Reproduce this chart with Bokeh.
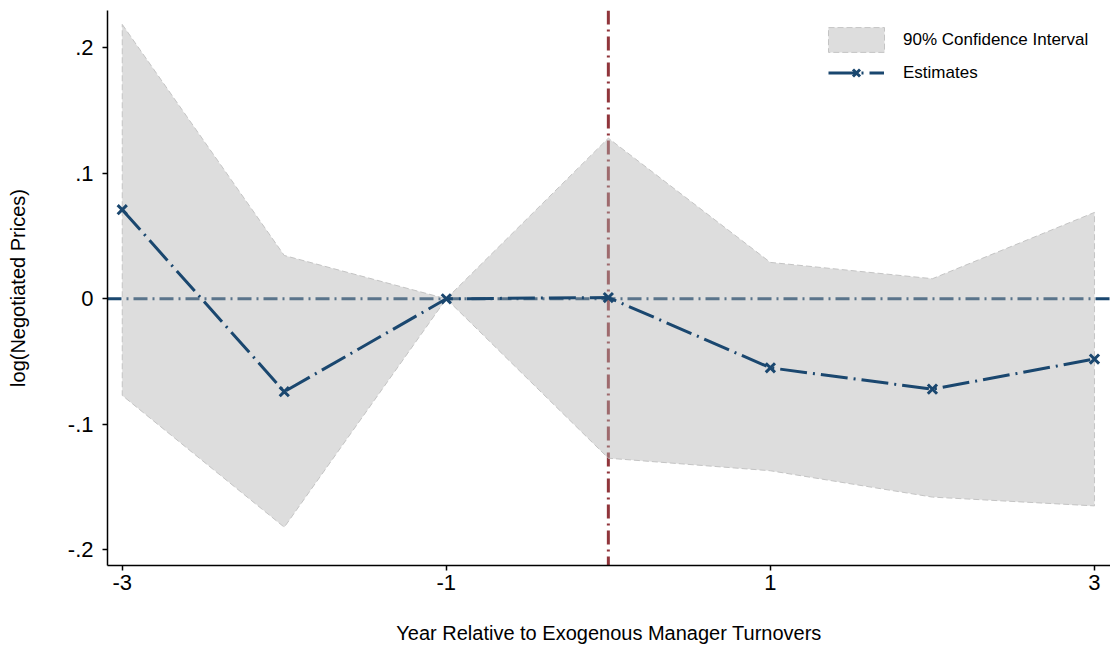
from bokeh.plotting import figure
from bokeh.models import (Range1d, FixedTicker, CustomJSTickFormatter, Span,
                          Legend, LegendItem)
from bokeh.embed import file_html
from bokeh.resources import INLINE

# Event-study estimates by year relative to manager turnover
years = [-3, -2, -1, 0, 1, 2, 3]
estimates = [0.071, -0.074, 0.0, 0.001, -0.055, -0.072, -0.048]
ci_upper = [0.2186, 0.0345, 0.0, 0.128, 0.029, 0.016, 0.0688]
ci_lower = [-0.077, -0.182, 0.0, -0.127, -0.137, -0.158, -0.165]

x_ticks = [-3, -1, 1, 3]
y_ticks = [-0.2, -0.1, 0.0, 0.1, 0.2]

FONT = "Liberation Sans"
NAVY = "#1a476f"
MAROON = "#90353b"

p = figure(width=1110, height=650, output_backend="svg", toolbar_location=None,
           x_range=Range1d(-3.091, 3.099), y_range=Range1d(-0.2125, 0.2297),
           min_border_left=107, min_border_right=0, min_border_top=10,
           min_border_bottom=85)
p.outline_line_color = None
p.xgrid.visible = False
p.ygrid.visible = False
p.background_fill_color = "white"
p.border_fill_color = "white"

# reference lines sit underneath the shaded band
p.add_layout(Span(location=0, dimension="width", line_color=NAVY,
                  line_width=3, line_dash="14 5 2 5", level="underlay"))
p.add_layout(Span(location=0, dimension="height", line_color=MAROON,
                  line_width=3, line_dash="14 5 2 5", level="underlay"))

# confidence band
band_x = years + years[::-1]
band_y = ci_upper + ci_lower[::-1]
band = p.patch(band_x, band_y, fill_color="#b1b1b1", fill_alpha=0.43,
               line_color="#c4c4c4", line_width=1, line_dash="6 3")

# point estimates
est_line = p.line(years, estimates, line_color=NAVY, line_width=3,
                  line_dash="27 6 2 6")
est_pts = p.scatter(years, estimates, marker="x", size=13, line_color=NAVY,
                    line_width=3)

# axes
for ax in (p.xaxis[0], p.yaxis[0]):
    ax.axis_line_color = "black"
    ax.axis_line_width = 1.5
    ax.major_tick_line_color = "black"
    ax.major_tick_line_width = 1.5
    ax.major_tick_in = 0
    ax.major_tick_out = 5
    ax.minor_tick_line_color = None
    ax.major_label_text_font = FONT
    ax.major_label_text_font_size = "22px"
    ax.major_label_text_color = "black"
    ax.axis_label_text_font = FONT
    ax.axis_label_text_font_size = "20px"
    ax.axis_label_text_font_style = "normal"
    ax.axis_label_text_color = "black"

p.xaxis.ticker = FixedTicker(ticks=x_ticks)
p.yaxis.ticker = FixedTicker(ticks=y_ticks)
p.xaxis.formatter = CustomJSTickFormatter(code="""
    return String(Math.round(tick));
""")
p.yaxis.formatter = CustomJSTickFormatter(code="""
    if (Math.abs(tick) < 1e-9) return "0";
    return tick.toFixed(1).replace("0.", ".");
""")
p.yaxis.major_label_orientation = "horizontal"
p.xaxis.axis_label = "Year Relative to Exogenous Manager Turnovers"
p.yaxis.axis_label = "log(Negotiated Prices)"
p.xaxis.major_label_standoff = 4
p.xaxis.axis_label_standoff = 29
p.yaxis.major_label_standoff = 9
p.yaxis.axis_label_standoff = 36


def style_legend(lg, glyph_w, glyph_h, standoff):
    lg.border_line_color = None
    lg.background_fill_alpha = 0
    lg.padding = 0
    lg.margin = 0
    lg.spacing = 0
    lg.glyph_width = glyph_w
    lg.glyph_height = glyph_h
    lg.label_standoff = standoff
    lg.label_text_font = FONT
    lg.label_text_font_size = "17px"
    lg.label_text_color = "black"


# area swatches are inset by 10% on each side, so that entry gets a wider slot
band_legend = Legend(items=[LegendItem(label="90% Confidence Interval",
                                       renderers=[band])], location=(714, 510))
style_legend(band_legend, 70, 31, 12)
est_legend = Legend(items=[LegendItem(label="Estimates",
                                      renderers=[est_line, est_pts])],
                    location=(721, 480))
style_legend(est_legend, 56, 25, 19)
p.add_layout(band_legend)
p.add_layout(est_legend)

open("out.html", "w").write(file_html(p, INLINE))
